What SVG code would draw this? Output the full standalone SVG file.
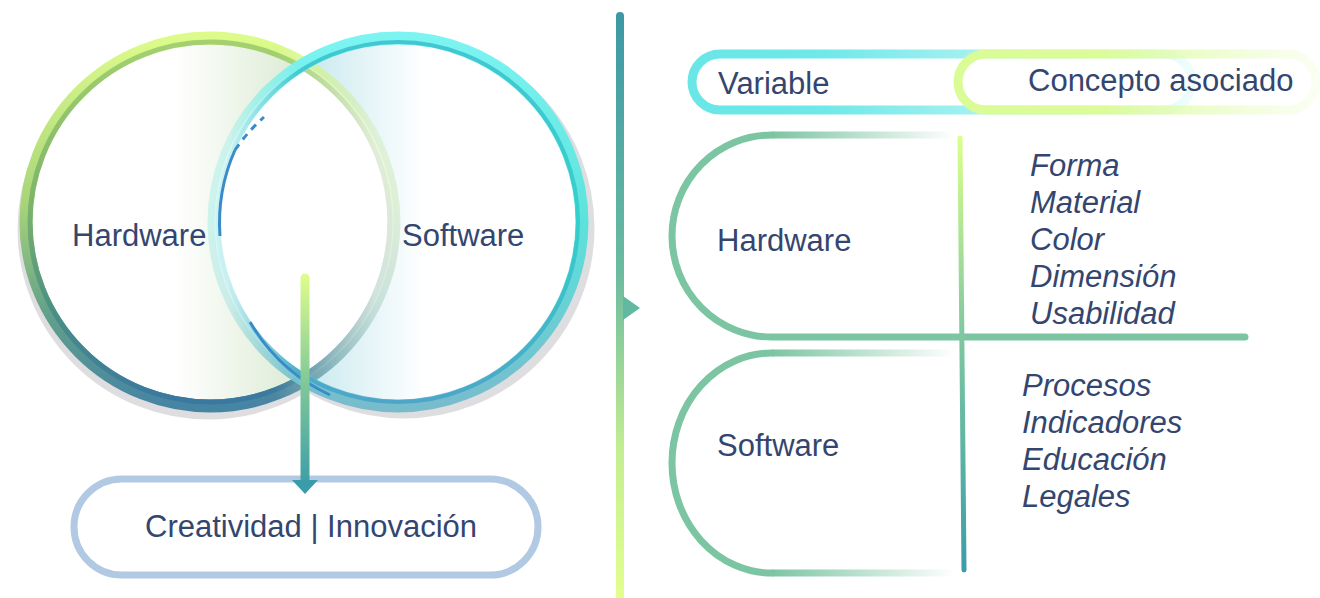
<svg xmlns="http://www.w3.org/2000/svg" width="1320" height="598" viewBox="0 0 1320 598">
<defs>
<style>
text{font-family:"Liberation Sans",Arial,sans-serif;fill:#34466f;font-size:31px}
.it{font-style:italic}
.br{fill:none;stroke:#7cc5a2;stroke-width:7;stroke-linecap:round}
</style>
<linearGradient id="ringL" x1="0" y1="0" x2="0" y2="1">
<stop offset="0" stop-color="#dcfb8a"/><stop offset="0.45" stop-color="#a8d478"/><stop offset="0.75" stop-color="#62a08a"/><stop offset="1" stop-color="#4684a4"/>
</linearGradient>
<linearGradient id="ringLi" x1="0" y1="0" x2="0" y2="1">
<stop offset="0" stop-color="#a4d070"/><stop offset="0.45" stop-color="#7cb46a"/><stop offset="0.75" stop-color="#4a8e86"/><stop offset="1" stop-color="#3a78a0"/>
</linearGradient>
<linearGradient id="ringR" x1="0" y1="0" x2="0" y2="1">
<stop offset="0" stop-color="#7cf4f2"/><stop offset="0.5" stop-color="#5ce2dc"/><stop offset="1" stop-color="#78bccc"/>
</linearGradient>
<linearGradient id="ringRi" x1="0" y1="0" x2="0" y2="1">
<stop offset="0" stop-color="#2ab4c4"/><stop offset="0.5" stop-color="#22c8c4"/><stop offset="1" stop-color="#3a9cc8"/>
</linearGradient>
<linearGradient id="mL" gradientUnits="userSpaceOnUse" x1="275" y1="0" x2="375" y2="0">
<stop offset="0" stop-color="#fff"/><stop offset="1" stop-color="#444"/>
</linearGradient>
<linearGradient id="mR" gradientUnits="userSpaceOnUse" x1="300" y1="0" x2="228" y2="0">
<stop offset="0" stop-color="#fff"/><stop offset="1" stop-color="#444"/>
</linearGradient>
<mask id="maskL" maskUnits="userSpaceOnUse" x="0" y="0" width="620" height="460"><rect x="0" y="0" width="620" height="460" fill="url(#mL)"/></mask>
<mask id="maskR" maskUnits="userSpaceOnUse" x="0" y="0" width="620" height="460"><rect x="0" y="0" width="620" height="460" fill="url(#mR)"/></mask>
<clipPath id="clipL"><circle cx="210" cy="222" r="184"/></clipPath>
<linearGradient id="fillL" gradientUnits="userSpaceOnUse" x1="175" y1="0" x2="300" y2="0">
<stop offset="0" stop-color="#fff"/><stop offset="1" stop-color="#dcebd4"/>
</linearGradient>
<linearGradient id="fillR" gradientUnits="userSpaceOnUse" x1="300" y1="0" x2="425" y2="0">
<stop offset="0" stop-color="#c6e8ee"/><stop offset="1" stop-color="#fff"/>
</linearGradient>
<linearGradient id="arrowG" gradientUnits="userSpaceOnUse" x1="0" y1="276" x2="0" y2="490">
<stop offset="0" stop-color="#ddfc8c"/><stop offset="0.5" stop-color="#80c898"/><stop offset="1" stop-color="#3a9ca8"/>
</linearGradient>
<linearGradient id="divG" gradientUnits="userSpaceOnUse" x1="0" y1="14" x2="0" y2="598">
<stop offset="0" stop-color="#3c98a6"/><stop offset="0.45" stop-color="#6cbca0"/><stop offset="0.75" stop-color="#c4ee92"/><stop offset="1" stop-color="#e2ff8e"/>
</linearGradient>
<linearGradient id="vG" gradientUnits="userSpaceOnUse" x1="0" y1="137" x2="0" y2="570">
<stop offset="0" stop-color="#dcff8a"/><stop offset="0.45" stop-color="#80c8a0"/><stop offset="1" stop-color="#3a9ea8"/>
</linearGradient>
<linearGradient id="fadeT" gradientUnits="userSpaceOnUse" x1="772" y1="0" x2="955" y2="0">
<stop offset="0" stop-color="#7cc5a2"/><stop offset="1" stop-color="#7cc5a2" stop-opacity="0"/>
</linearGradient>
<linearGradient id="pillC" gradientUnits="userSpaceOnUse" x1="692" y1="0" x2="1195" y2="0">
<stop offset="0" stop-color="#6ae6e6"/><stop offset="0.25" stop-color="#6ee8e8"/><stop offset="1" stop-color="#6ee8e8" stop-opacity="0.1"/>
</linearGradient>
<linearGradient id="pillG" gradientUnits="userSpaceOnUse" x1="958" y1="0" x2="1320" y2="0">
<stop offset="0" stop-color="#dafc96"/><stop offset="0.4" stop-color="#dcfc9a"/><stop offset="1" stop-color="#e8fcc4" stop-opacity="0.2"/>
</linearGradient>
</defs>

<g id="venn">
<circle cx="208" cy="229" r="184" fill="none" stroke="#c8c8cc" stroke-opacity="0.6" stroke-width="13"/>
<circle cx="404" cy="228" r="184" fill="none" stroke="#c8c8cc" stroke-opacity="0.6" stroke-width="13"/>
<circle cx="210" cy="222" r="184" fill="url(#fillL)"/>
<circle cx="398" cy="222" r="184" fill="url(#fillR)"/>
<circle cx="398" cy="222" r="184" fill="#fff" clip-path="url(#clipL)"/>
<g mask="url(#maskL)">
<circle cx="210" cy="222" r="184" fill="none" stroke="url(#ringL)" stroke-width="13"/>
<circle cx="210" cy="222" r="180" fill="none" stroke="url(#ringLi)" stroke-width="5"/>
</g>
<g mask="url(#maskR)">
<circle cx="398" cy="222" r="184" fill="none" stroke="url(#ringR)" stroke-width="13"/>
<circle cx="398" cy="222" r="180" fill="none" stroke="url(#ringRi)" stroke-opacity="0.7" stroke-width="4"/>
</g>
<path d="M 220 236 A 180 180 0 0 1 235 150" fill="none" stroke="#3a8cc8" stroke-width="3"/>
<path d="M 235 150 A 180 180 0 0 1 264 117" fill="none" stroke="#3a8cc8" stroke-width="3" stroke-dasharray="7 6"/>
<path d="M 250 322 A 180 180 0 0 0 330 395" fill="none" stroke="#3a8cc8" stroke-width="3"/>
</g>
<g id="hw-left"><text x="72" y="246">Hardware</text></g>
<g id="sw-left"><text x="402" y="246">Software</text></g>

<g id="result">
<rect x="74" y="479" width="464" height="96" rx="48" fill="#fff" stroke="#b2c9e3" stroke-width="7"/>
<text x="145" y="537">Creatividad | Innovación</text>
</g>

<g id="connectors">
<line x1="305" y1="278" x2="305" y2="482" stroke="url(#arrowG)" stroke-width="9" stroke-linecap="round"/>
<polygon points="292,480 318,480 305,494" fill="#3a9ca8"/>
<line x1="620" y1="16" x2="620" y2="598" stroke="url(#divG)" stroke-width="8" stroke-linecap="round"/>
<polygon points="623,296 640,308 623,320" fill="#62b8a0"/>
<line x1="772" y1="135" x2="955" y2="135" stroke="url(#fadeT)" stroke-width="7"/>
<path class="br" d="M 772 135 A 100 101 0 0 0 772 337 L 1245 337"/>
<line x1="772" y1="353" x2="955" y2="353" stroke="url(#fadeT)" stroke-width="7"/>
<path class="br" d="M 772 353 A 100 110 0 0 0 772 573"/>
<line x1="772" y1="573" x2="960" y2="573" stroke="url(#fadeT)" stroke-width="7"/>
<line x1="960" y1="138" x2="964" y2="570" stroke="url(#vG)" stroke-width="5" stroke-linecap="round"/>
</g>

<g id="header-variable">
<rect x="692" y="54" width="500" height="56" rx="28" fill="none" stroke="url(#pillC)" stroke-width="9"/>
<text x="718" y="94">Variable</text>
</g>
<g id="header-concepto">
<rect x="958" y="54" width="358" height="56" rx="28" fill="none" stroke="url(#pillG)" stroke-width="9"/>
<text x="1028" y="91">Concepto asociado</text>
</g>

<g id="hw-right"><text x="717" y="251">Hardware</text></g>
<g id="hw-concepts">
<text class="it" x="1030" y="176">Forma</text>
<text class="it" x="1030" y="213">Material</text>
<text class="it" x="1030" y="250">Color</text>
<text class="it" x="1030" y="287">Dimensión</text>
<text class="it" x="1030" y="324">Usabilidad</text>
</g>
<g id="sw-right"><text x="717" y="456">Software</text></g>
<g id="sw-concepts">
<text class="it" x="1022" y="396">Procesos</text>
<text class="it" x="1022" y="433">Indicadores</text>
<text class="it" x="1022" y="470">Educación</text>
<text class="it" x="1022" y="507">Legales</text>
</g>
</svg>
